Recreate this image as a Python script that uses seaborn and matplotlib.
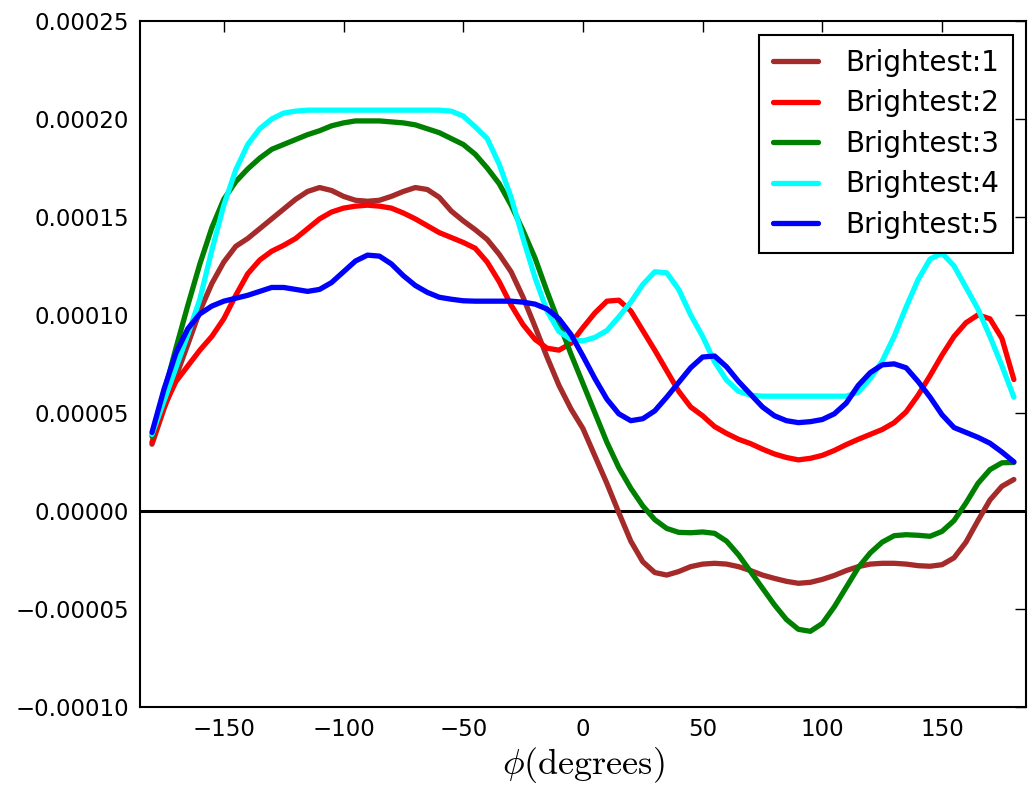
import numpy as np
import pandas as pd
import matplotlib
matplotlib.use("Agg")
import matplotlib.pyplot as plt
import seaborn as sns

# ---- data (values in units of 1e-5) ----
phi = list(range(-180, 181, 5))

b1 = [3.4, 5.2, 6.85, 8.5, 10.2, 11.6, 12.7, 13.5, 13.9, 14.4, 14.9, 15.4, 15.9,
      16.3, 16.5, 16.35, 16.05, 15.85, 15.8, 15.85, 16.05, 16.3, 16.5, 16.4, 16.0,
      15.3, 14.8, 14.35, 13.85, 13.1, 12.2, 10.9, 9.4, 7.85, 6.4, 5.2, 4.2,
      2.8, 1.4, -0.1, -1.55, -2.6, -3.15, -3.28, -3.1, -2.85, -2.72, -2.68, -2.72,
      -2.85, -3.05, -3.28, -3.45, -3.6, -3.7, -3.65, -3.5, -3.3, -3.05, -2.85,
      -2.72, -2.68, -2.68, -2.72, -2.8, -2.83, -2.75, -2.4, -1.6, -0.5, 0.55, 1.25, 1.6]
b2 = [3.5, 5.3, 6.6, 7.4, 8.2, 8.9, 9.8, 11.0, 12.1, 12.8, 13.25, 13.55, 13.9,
      14.4, 14.9, 15.25, 15.45, 15.55, 15.6, 15.55, 15.45, 15.2, 14.9, 14.55, 14.2,
      13.95, 13.7, 13.4, 12.7, 11.7, 10.5, 9.5, 8.75, 8.3, 8.2, 8.55, 9.35,
      10.1, 10.7, 10.75, 10.2, 9.2, 8.2, 7.15, 6.1, 5.3, 4.85, 4.3, 3.95,
      3.65, 3.43, 3.15, 2.9, 2.72, 2.6, 2.68, 2.83, 3.08, 3.38, 3.65,
      3.9, 4.15, 4.5, 5.05, 5.9, 6.9, 7.95, 8.9, 9.6, 10.0, 9.8, 8.8, 6.7]
b3 = [3.8, 6.0, 8.3, 10.5, 12.6, 14.45, 15.9, 16.8, 17.45, 18.0, 18.45, 18.7, 18.95,
      19.2, 19.4, 19.65, 19.8, 19.9, 19.9, 19.9, 19.85, 19.8, 19.7, 19.5, 19.3,
      19.0, 18.7, 18.2, 17.5, 16.7, 15.6, 14.3, 12.9, 11.2, 9.6, 8.0, 6.5,
      5.0, 3.5, 2.2, 1.15, 0.25, -0.45, -0.9, -1.1, -1.12, -1.08, -1.15, -1.55,
      -2.25, -3.1, -3.95, -4.8, -5.55, -6.05, -6.15, -5.75, -4.9, -3.9, -2.9,
      -2.15, -1.6, -1.27, -1.22, -1.25, -1.3, -1.05, -0.5, 0.4, 1.4, 2.1, 2.45, 2.47]
b4 = [3.9, 5.6, 7.3, 9.0, 10.8, 13.3, 15.6, 17.4, 18.7, 19.5, 20.0, 20.3, 20.4,
      20.45, 20.45, 20.45, 20.45, 20.45, 20.45, 20.45, 20.45, 20.45, 20.45, 20.45, 20.45,
      20.4, 20.15, 19.6, 19.0, 17.7, 16.0, 13.9, 11.9, 10.2, 9.15, 8.75, 8.67,
      8.85, 9.2, 9.9, 10.65, 11.55, 12.2, 12.15, 11.3, 10.0, 8.9, 7.6, 6.67,
      6.1, 5.9, 5.85, 5.85, 5.85, 5.85, 5.85, 5.85, 5.85, 5.85, 6.05,
      6.74, 7.64, 8.9, 10.4, 11.8, 12.85, 13.15, 12.5, 11.4, 10.3, 8.9, 7.4, 5.8]
b5 = [4.0, 6.2, 8.05, 9.3, 10.05, 10.45, 10.7, 10.85, 11.0, 11.2, 11.4, 11.4, 11.3,
      11.2, 11.3, 11.65, 12.2, 12.75, 13.05, 13.0, 12.6, 12.0, 11.5, 11.15, 10.9,
      10.8, 10.72, 10.7, 10.7, 10.7, 10.7, 10.65, 10.55, 10.3, 9.8, 9.0, 7.9,
      6.75, 5.7, 4.95, 4.6, 4.7, 5.1, 5.8, 6.55, 7.3, 7.85, 7.9, 7.35,
      6.6, 5.95, 5.3, 4.85, 4.6, 4.5, 4.55, 4.66, 4.95, 5.5, 6.4,
      7.05, 7.45, 7.5, 7.3, 6.6, 5.8, 4.9, 4.25, 4.0, 3.75, 3.45, 3.0, 2.5]

labels = ["Brightest:1", "Brightest:2", "Brightest:3", "Brightest:4", "Brightest:5"]
colors = ["#A52A2A", "#FF0000", "#008000", "#00FFFF", "#0000FF"]
series = [b1, b2, b3, b4, b5]
xticks = [-150, -100, -50, 0, 50, 100, 150]
yticks = [-0.00010, -0.00005, 0.0, 0.00005, 0.00010, 0.00015, 0.00020, 0.00025]

rows = []
for lab, vals in zip(labels, series):
    for p, v in zip(phi, vals):
        rows.append({"phi": p, "value": v * 1e-5, "series": lab})
df = pd.DataFrame(rows)

sns.set_style("white")
plt.rcParams["font.family"] = ["DejaVu Sans"]
plt.rcParams["mathtext.fontset"] = "cm"
plt.rcParams["text.color"] = "black"
plt.rcParams["xtick.color"] = "black"
plt.rcParams["ytick.color"] = "black"

fig = plt.figure(figsize=(10.31, 7.93), dpi=100)
ax = fig.add_axes([0.1358, 0.1088, 0.995 - 0.1358, 0.9735 - 0.1088])

sns.lineplot(data=df, x="phi", y="value", hue="series", hue_order=labels,
             palette=dict(zip(labels, colors)), linewidth=3.8, ax=ax,
             legend=True, sort=False)
ax.axhline(0, color="black", linewidth=2.2, zorder=1)

ax.set_xlim(-185, 185)
ax.set_ylim(-0.00010, 0.00025)
ax.set_xticks(xticks)
ax.set_yticks(yticks)
ax.set_yticklabels([f"{t:.5f}".replace("-", "\u2212") for t in yticks])
ax.tick_params(direction="in", length=8, width=1, top=True, right=True,
               labelsize=16.5, pad=8, colors="black", labelcolor="black")
for s in ax.spines.values():
    s.set_linewidth(1.5)
    s.set_color("black")
    s.set_visible(True)

ax.set_xlabel(r"$\phi(\mathrm{degrees})$", fontsize=26, labelpad=3, color="black")
ax.set_ylabel("")

handles, labs = ax.get_legend_handles_labels()
leg = ax.legend(handles, labs, loc="upper right", fontsize=20, frameon=True,
                fancybox=False, framealpha=1, edgecolor="black",
                handlelength=1.63, handletextpad=0.97, labelspacing=0.45,
                borderpad=0.5, borderaxespad=0,
                bbox_to_anchor=(0.9853, 0.9796))
leg.get_frame().set_linewidth(1.5)
for t in leg.get_texts():
    t.set_color("black")
for h in leg.get_lines():
    h.set_linewidth(3.8)

fig.savefig("out.png", dpi=100, facecolor="white")
